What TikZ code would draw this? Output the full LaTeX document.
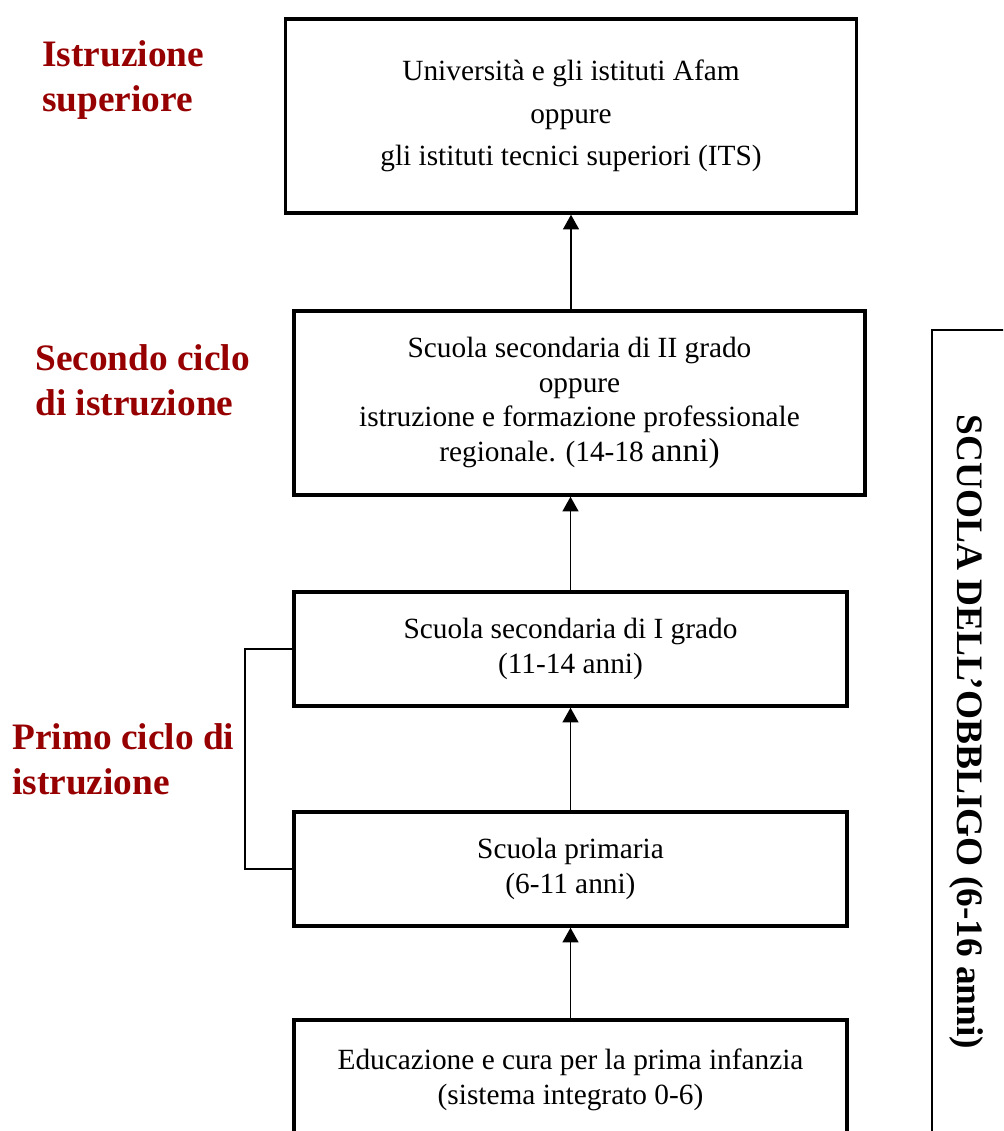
\documentclass[tikz,border=0pt]{standalone}
\usepackage{fontspec}
\setmainfont{Liberation Serif}
\usetikzlibrary{arrows.meta}
\definecolor{rossoscuro}{RGB}{150,0,0}

\begin{document}
\begin{tikzpicture}[x=0.75pt,y=-0.75pt,
  scatola/.style={draw,line width=2.6pt,align=center,inner sep=0pt,
    font=\fontsize{22}{26}\selectfont},
  ciclo/.style={text=rossoscuro,align=left,anchor=west,inner sep=0pt,
    font=\fontsize{28}{34}\selectfont\bfseries},
  freccia/.style={-{Triangle[width=12pt,length=11pt]},line width=1pt}]

\useasboundingbox (0,0) rectangle (1003,1131);
\clip (0,0) rectangle (1003,1131);

% Riquadri del percorso
\node[scatola,minimum width=428pt,minimum height=145.5pt,
  font=\fontsize{22}{32}\selectfont] (univ) at (571,116)
  {Università e gli istituti Afam\\oppure\\gli istituti tecnici superiori (ITS)};
\node[scatola,minimum width=428pt,minimum height=138pt] (sec2) at (579.5,403)
  {Scuola secondaria di II grado\\oppure\\istruzione e formazione professionale\\
   regionale. (14-18 {\fontsize{25}{26}\selectfont anni)}};
\node[scatola,minimum width=415pt,minimum height=85.5pt] (sec1) at (570.5,649)
  {Scuola secondaria di I grado\\(11-14 anni)};
\node[scatola,minimum width=415pt,minimum height=85.5pt] (prim) at (570.5,869)
  {Scuola primaria\\(6-11 anni)};
\node[scatola,minimum width=415pt,minimum height=90pt] (infa) at (570.5,1080)
  {Educazione e cura per la prima infanzia\\(sistema integrato 0-6)};

% Frecce
\draw[freccia] (infa.north) -- (infa.north |- prim.south);
\draw[freccia] (prim.north) -- (prim.north |- sec1.south);
\draw[freccia] (sec1.north) -- (sec1.north |- sec2.south);
\draw[freccia] (sec2.north -| univ.south) -- (univ.south);

% Parentesi del primo ciclo
\draw[line width=1pt] (sec1.west) -- ++(-47,0) |- (prim.west);

% Etichette dei cicli
\node[ciclo] (lsup) at (42,80) {Istruzione\\superiore};
\node[ciclo] (lsec) at (35,380) {Secondo ciclo\\di istruzione};
\node[ciclo] (lpri) at (12,759) {Primo ciclo di\\istruzione};

% Scuola dell'obbligo
\draw[line width=1pt] (932,330) rectangle (1020,1150);
\node[font=\fontsize{28}{30}\selectfont\bfseries,rotate=-90] (obbl) at (966,732)
  {SCUOLA DELL’OBBLIGO (6-16 anni)};

\end{tikzpicture}
\end{document}
